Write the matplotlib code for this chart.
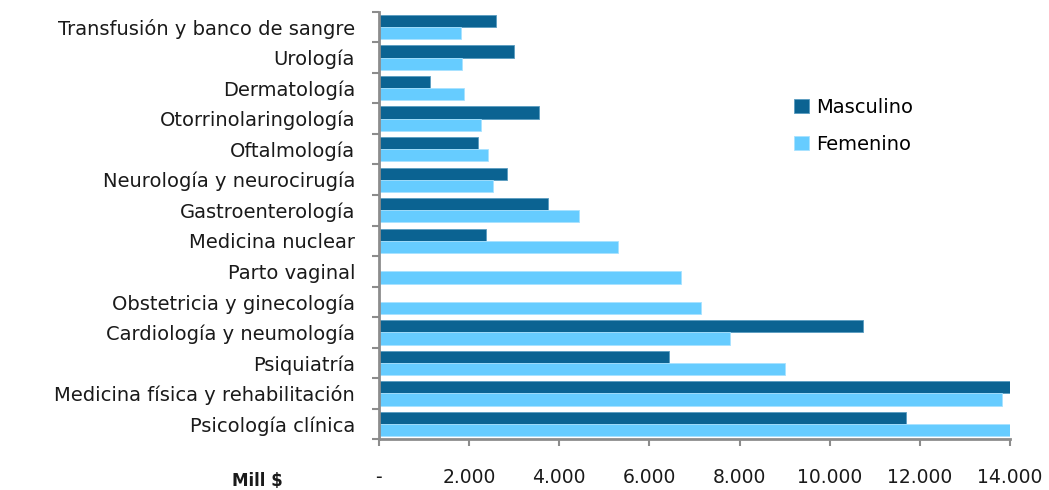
import numpy as np
import matplotlib.pyplot as plt
from matplotlib.ticker import FuncFormatter, FixedLocator

# categories, top to bottom as in the chart
categorias = ['Transfusión y banco de sangre', 'Urología', 'Dermatología',
              'Otorrinolaringología', 'Oftalmología', 'Neurología y neurocirugía',
              'Gastroenterología', 'Medicina nuclear', 'Parto vaginal',
              'Obstetricia y ginecología', 'Cardiología y neumología', 'Psiquiatría',
              'Medicina física y rehabilitación', 'Psicología clínica']
# millones de pesos
masculino = [2610, 2995, 1140, 3560, 2200, 2840, 3755, 2390, 0, 0, 10745, 6435, 14100, 11690]
femenino = [1825, 1855, 1900, 2270, 2425, 2545, 4430, 5300, 6700, 7150, 7795, 9010, 13810, 14100]
xticks = [0, 2000, 4000, 6000, 8000, 10000, 12000, 14000]

c_masc = '#0B6392'
c_fem = '#66CCFF'
gris = '#8C8C8C'

fig = plt.figure(figsize=(10.49, 4.9), dpi=100)
ax = fig.add_axes([0.361, 0.1035, 0.602, 0.8725])

y = np.arange(len(categorias))
h = 0.4
ax.barh(y - h/2, masculino, height=h, color=c_masc, edgecolor='#5A9CC0', linewidth=0.6, label='Masculino')
ax.barh(y + h/2, femenino, height=h, color=c_fem, edgecolor='#A8E2FF', linewidth=0.6, label='Femenino')

ax.set_xlim(0, 14000)
ax.set_ylim(len(categorias) - 0.5, -0.5)

ax.set_yticks(y)
ax.set_yticklabels(categorias, fontsize=14, color='#1a1a1a')
ax.yaxis.set_minor_locator(FixedLocator(np.arange(-0.5, len(categorias), 1)))
ax.tick_params(axis='y', which='major', length=0, pad=17)
ax.tick_params(axis='y', which='minor', length=5, width=1.5, color=gris)

ax.set_xticks(xticks)
ax.xaxis.set_major_formatter(FuncFormatter(lambda v, p: '-' if v == 0 else f'{int(v):,}'.replace(',', '.')))
ax.tick_params(axis='x', length=5, width=1.5, color=gris, pad=16, labelsize=13.5, labelcolor='#1a1a1a')

for s in ['top', 'right']:
    ax.spines[s].set_visible(False)
for s in ['left', 'bottom']:
    ax.spines[s].set_color(gris)
    ax.spines[s].set_linewidth(2)

fig.text(257 / 1049, 1 - 481 / 490, 'Mill $', fontsize=12, fontweight='bold',
         ha='center', va='center', color='#1a1a1a')

leg = ax.legend(loc='upper left', bbox_to_anchor=(0.63, 0.84), frameon=False,
                fontsize=14, handlelength=0.75, handleheight=0.75, handletextpad=0.4,
                labelspacing=0.95)

plt.savefig('out.png', dpi=100)
